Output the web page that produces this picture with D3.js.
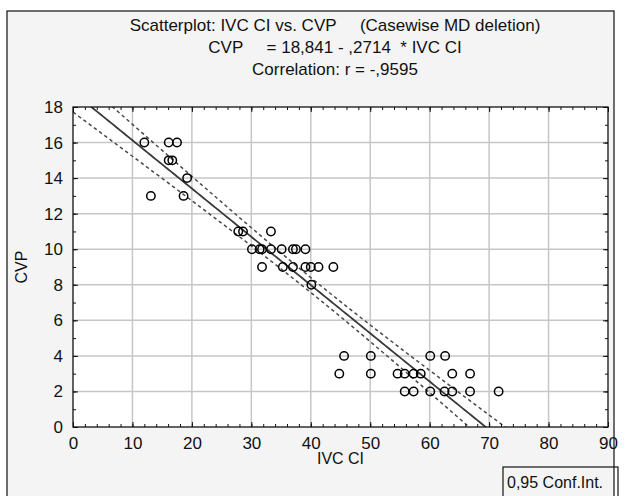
<!DOCTYPE html>
<html>
<head>
<meta charset="utf-8">
<script src="https://cdn.jsdelivr.net/npm/d3@7"></script>
<style>
  body { margin: 0; background: #fff; }
  text { font-family: "Liberation Sans", Arial, sans-serif; fill: #111; }
</style>
</head>
<body>
<div id="chart"></div>
<script>

// data
const ivcCI = [12.0, 13.1, 16.1, 17.5, 16.1, 16.7, 19.2, 18.6,
    27.8, 28.6, 33.3,
    30.1, 31.4, 31.8, 33.3, 35.1, 37.0, 37.5, 39.1,
    31.8, 35.3, 37.0, 39.1, 40.0, 41.3, 43.8,
    40.1,
    45.6, 50.1, 60.1, 62.6,
    44.8, 50.1, 54.6, 55.8, 57.3, 58.5, 63.8, 66.8,
    55.8, 57.3, 60.1, 62.5, 63.8, 66.8, 71.6];
const cvp = [16, 13, 16, 16, 15, 15, 14, 13,
    11, 11, 11,
    10, 10, 10, 10, 10, 10, 10, 10,
    9, 9, 9, 9, 9, 9, 9,
    8,
    4, 4, 4, 4,
    3, 3, 3, 3, 3, 3, 3, 3,
    2, 2, 2, 2, 2, 2, 2];

const intercept = 18.841;
const slope = -0.2714;
const tCrit = 2.015; // t(0.975, n-2)

const xTicks = [0, 10, 20, 30, 40, 50, 60, 70, 80, 90];
const yTicks = [0, 2, 4, 6, 8, 10, 12, 14, 16, 18];
const xMinor = d3.range(0, 91, 2);
const yMinor = d3.range(0, 19, 1);

const titleLines = [
    "Scatterplot: IVC CI vs. CVP     (Casewise MD deletion)",
    "CVP     = 18,841 - ,2714  * IVC CI",
    "Correlation: r = -,9595"
];

const width = 627, height = 496;
const plot = { left: 73, top: 107, right: 608, bottom: 427 };

const svg = d3.select("#chart")
    .append("svg")
    .attr("width", width)
    .attr("height", height);

// outer panel
svg.append("rect")
    .attr("x", 7).attr("y", 11)
    .attr("width", 607).attr("height", 500)
    .attr("fill", "#f4f4f4")
    .attr("stroke", "#222")
    .attr("stroke-width", 1.3);

const x = d3.scaleLinear().domain([0, 90]).range([plot.left, plot.right]);
const y = d3.scaleLinear().domain([0, 18]).range([plot.bottom, plot.top]);

svg.append("rect")
    .attr("x", plot.left).attr("y", plot.top)
    .attr("width", plot.right - plot.left).attr("height", plot.bottom - plot.top)
    .attr("fill", "#fff");

svg.append("clipPath").attr("id", "clip")
    .append("rect")
    .attr("x", plot.left).attr("y", plot.top)
    .attr("width", plot.right - plot.left).attr("height", plot.bottom - plot.top);

// grid
svg.append("g")
    .selectAll("line")
    .data(xTicks.slice(1, -1))
    .join("line")
    .attr("x1", d => x(d)).attr("x2", d => x(d))
    .attr("y1", plot.top).attr("y2", plot.bottom)
    .attr("stroke", "#c6c6c6").attr("stroke-width", 1.5);

svg.append("g")
    .selectAll("line")
    .data(yTicks.slice(1, -1))
    .join("line")
    .attr("y1", d => y(d)).attr("y2", d => y(d))
    .attr("x1", plot.left).attr("x2", plot.right)
    .attr("stroke", "#c6c6c6").attr("stroke-width", 1.5);

// regression line + confidence band
const n = ivcCI.length;
const xbar = d3.mean(ivcCI);
const sxx = d3.sum(ivcCI, v => (v - xbar) ** 2);
const sse = d3.sum(ivcCI, (v, i) => (cvp[i] - (intercept + slope * v)) ** 2);
const s = Math.sqrt(sse / (n - 2));
const half = v => tCrit * s * Math.sqrt(1 / n + (v - xbar) ** 2 / sxx);

const xs = d3.range(0, 90.5, 0.5);
const g = svg.append("g").attr("clip-path", "url(#clip)");

g.append("path")
    .datum(xs)
    .attr("fill", "none")
    .attr("stroke", "#3a3a3a")
    .attr("stroke-width", 1.8)
    .attr("d", d3.line().x(d => x(d)).y(d => y(intercept + slope * d)));

[-1, 1].forEach(sign => {
    g.append("path")
        .datum(xs)
        .attr("fill", "none")
        .attr("stroke", "#4a4a4a")
        .attr("stroke-width", 1.5)
        .attr("stroke-dasharray", "3.5,3")
        .attr("d", d3.line().x(d => x(d)).y(d => y(intercept + slope * d + sign * half(d))));
});

// points
svg.append("g")
    .selectAll("circle")
    .data(ivcCI)
    .join("circle")
    .attr("cx", d => x(d))
    .attr("cy", (d, i) => y(cvp[i]))
    .attr("r", 4.2)
    .attr("fill", "none")
    .attr("stroke", "#000")
    .attr("stroke-width", 1.5);

// axes (ticks point inward)
const noLabel = () => "";
function tickAxis(axis, scale, values, size, fmt) {
    return axis(scale).tickValues(values).tickSizeInner(-size).tickSizeOuter(0).tickFormat(fmt);
}

const axisStyle = sel => {
    sel.select(".domain").remove();
    sel.selectAll("line").attr("stroke", "#111");
};

svg.append("g").attr("transform", `translate(0,${plot.bottom})`)
    .call(tickAxis(d3.axisBottom, x, xMinor, 3, noLabel)).call(axisStyle);
svg.append("g").attr("transform", `translate(0,${plot.top})`)
    .call(tickAxis(d3.axisTop, x, xMinor, 3, noLabel)).call(axisStyle);
svg.append("g").attr("transform", `translate(${plot.left},0)`)
    .call(tickAxis(d3.axisLeft, y, yMinor, 3, noLabel)).call(axisStyle);
svg.append("g").attr("transform", `translate(${plot.right},0)`)
    .call(tickAxis(d3.axisRight, y, yMinor, 3, noLabel)).call(axisStyle);

const xAxis = svg.append("g").attr("transform", `translate(0,${plot.bottom})`)
    .call(tickAxis(d3.axisBottom, x, xTicks, 5, d3.format("d")).tickPadding(10))
    .call(axisStyle);
const yAxis = svg.append("g").attr("transform", `translate(${plot.left},0)`)
    .call(tickAxis(d3.axisLeft, y, yTicks, 5, d3.format("d")).tickPadding(10))
    .call(axisStyle);
svg.append("g").attr("transform", `translate(0,${plot.top})`)
    .call(tickAxis(d3.axisTop, x, xTicks, 5, noLabel)).call(axisStyle);
svg.append("g").attr("transform", `translate(${plot.right},0)`)
    .call(tickAxis(d3.axisRight, y, yTicks, 5, noLabel)).call(axisStyle);

[xAxis, yAxis].forEach(a => a.selectAll("text")
    .attr("font-family", "Liberation Sans, Arial, sans-serif")
    .attr("font-size", 17)
    .attr("fill", "#111"));

// frame
svg.append("rect")
    .attr("x", plot.left).attr("y", plot.top)
    .attr("width", plot.right - plot.left).attr("height", plot.bottom - plot.top)
    .attr("fill", "none")
    .attr("stroke", "#111")
    .attr("stroke-width", 1.3);

// titles
svg.append("g")
    .selectAll("text")
    .data(titleLines)
    .join("text")
    .attr("x", 335)
    .attr("y", (d, i) => 31 + i * 22)
    .attr("text-anchor", "middle")
    .attr("font-size", 17)
    .style("white-space", "pre")
    .text(d => d);

svg.append("text")
    .attr("x", (plot.left + plot.right) / 2)
    .attr("y", 464)
    .attr("text-anchor", "middle")
    .attr("font-size", 16)
    .text("IVC CI");

svg.append("text")
    .attr("transform", `translate(27,${(plot.top + plot.bottom) / 2}) rotate(-90)`)
    .attr("text-anchor", "middle")
    .attr("font-size", 16)
    .text("CVP");

// legend box
svg.append("rect")
    .attr("x", 503).attr("y", 467)
    .attr("width", 115).attr("height", 40)
    .attr("fill", "none")
    .attr("stroke", "#111")
    .attr("stroke-width", 1.2);
svg.append("text")
    .attr("x", 507).attr("y", 488)
    .attr("font-size", 16)
    .text("0,95 Conf.Int.");

</script>
</body>
</html>
